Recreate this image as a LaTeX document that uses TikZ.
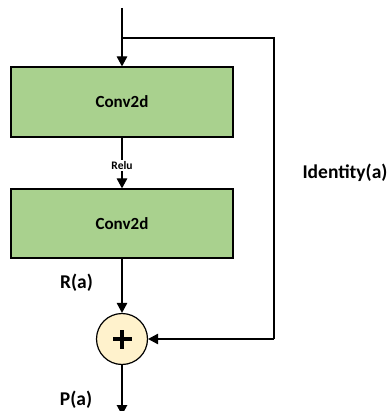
\documentclass[tikz,border=0pt]{standalone}
\usepackage{fontspec}
\setmainfont{Carlito}
\usetikzlibrary{arrows.meta}
\definecolor{convgreen}{HTML}{A9D18E}
\definecolor{sumyellow}{HTML}{FFF2CC}
\tikzset{
  layerbox/.style={draw=black, line width=1.2pt, fill=convgreen,
    minimum width=222pt, minimum height=70pt, inner sep=0pt,
    font=\fontsize{17}{20}\selectfont\bfseries},
  sumnode/.style={circle, draw=black, line width=1.2pt, fill=sumyellow,
    minimum size=51pt, inner sep=0pt},
  flow/.style={line width=1.2pt, -{Triangle[width=10.5pt,length=10pt]}},
  wire/.style={line width=1.2pt},
  biglabel/.style={font=\fontsize{19.5}{23}\selectfont\bfseries, inner sep=0pt},
}
\begin{document}
\begin{tikzpicture}[x=1pt,y=-1pt]
  \useasboundingbox (0,0) rectangle (389,411);

  % input, split point for the skip path, output end
  \coordinate (in) at (122,8);
  \coordinate (split) at (122,38);
  \coordinate (skipTop) at (274,38);
  \coordinate (skipBot) at (274,339);
  \coordinate (out) at (122,415);

  % residual branch
  \node[layerbox] (conv1) at (122,102) {Conv2d};
  \node[layerbox, minimum height=69pt] (conv2) at (122,223.5) {Conv2d};
  \node[sumnode] (sum) at (122,339) {};
  \fill (sum.center) +(-9.5,-1.8) rectangle +(9.5,1.8);
  \fill (sum.center) +(-1.8,-9.5) rectangle +(1.8,9.5);

  \draw[flow] (in) -- (conv1.north);
  \draw[flow] (conv1.south) -- (conv2.north);
  \node[fill=white, inner sep=1pt, font=\fontsize{11.5}{13}\selectfont\bfseries]
    (relu) at (122,165.5) {Relu};
  \draw[flow] (conv2.south) -- (sum.north);
  \draw[flow] (sum.south) -- (out);

  % identity shortcut
  \draw[wire] (split) -- (skipTop) -- (skipBot);
  \draw[flow] (skipBot) -- (sum.east);

  % labels
  \node[biglabel] (ida) at (345,172.5) {Identity(a)};
  \node[biglabel] (ra) at (76.5,283) {R(a)};
  \node[biglabel] (pa) at (76,400) {P(a)};
\end{tikzpicture}
\end{document}
